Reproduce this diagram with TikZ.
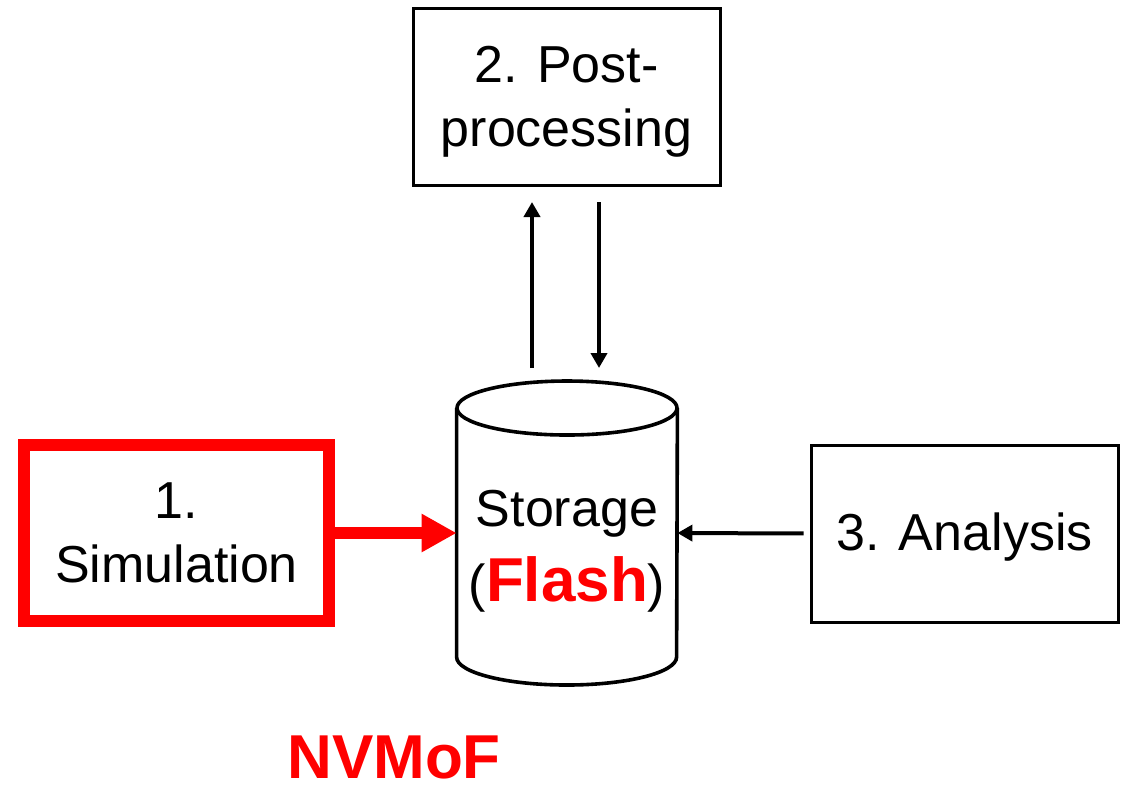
\documentclass[tikz,border=0pt]{standalone}
\usepackage{fontspec}
\setmainfont{Liberation Sans}
\usetikzlibrary{arrows.meta,calc}
\definecolor{pured}{RGB}{255,0,0}
\tikzset{
  stagebox/.style={draw, line width=1.5pt, minimum width=153.5pt, minimum height=88.5pt,
    inner sep=0pt, align=center, font=\fontsize{26}{32}\selectfont},
  stagetext/.style={inner sep=0pt, align=center, font=\fontsize{26}{32}\selectfont},
  simbox/.style={stagebox, draw=pured, line width=6pt, minimum width=152.5pt, minimum height=88pt},
  thinarrow/.style={line width=2pt, -{Triangle[length=7.5pt,width=8pt]}},
  bigarrow/.style={draw=pured, line width=6pt, -{Triangle[length=17.5pt,width=18pt,fill=pured]}},
  cylline/.style={line width=1.8pt},
}
\begin{document}
\begin{tikzpicture}[x=0.5pt,y=-0.5pt]
\useasboundingbox (0,0) rectangle (1127,784);

% process stages
\node[stagebox] (post) at (566.5,96.5) {};
\node[stagetext] (posttext) at ($(post.center)+(0,5)$) {2. Post-\\processing};
\node[simbox] (sim) at (176.5,533) {1.\\Simulation};
\node[stagebox] (ana) at (964.5,533.5) {};
\node[stagetext] (anatext) at ($(ana.center)+(0,4)$) {3. Analysis};

% storage cylinder
\node[minimum width=110pt, minimum height=139pt, inner sep=0pt] (cyl) at (567,533) {};
\draw[cylline] (cyl.west |- 0,408) -- (cyl.west |- 0,657)
  arc[start angle=180, end angle=360, x radius=55pt, y radius=14pt]
  -- (cyl.east |- 0,408);
\draw[cylline] (567,408) ellipse[x radius=55pt, y radius=13.5pt];
\node[align=center, font=\fontsize{26}{37.5}\selectfont] (storage) at (567,551)
  {Storage\\(\textcolor{pured}{\fontsize{31}{37.5}\selectfont\bfseries Flash})};

% connectors
\coordinate (upfrom) at (532,368);
\coordinate (upto) at (532,202);
\coordinate (downfrom) at (599,202);
\coordinate (downto) at (599,368);
\draw[thinarrow] (upfrom) -- (upto);
\draw[thinarrow] (downfrom) -- (downto);
\draw[bigarrow] (sim.east) -- (cyl.west);
\draw[thinarrow, shorten <=3pt] (ana.west) -- (cyl.east);

% label
\node[anchor=base, inner sep=0pt, text=pured, font=\fontsize{31}{37}\selectfont\bfseries] (nvmof) at (394,778) {NVMoF};
\end{tikzpicture}
\end{document}
